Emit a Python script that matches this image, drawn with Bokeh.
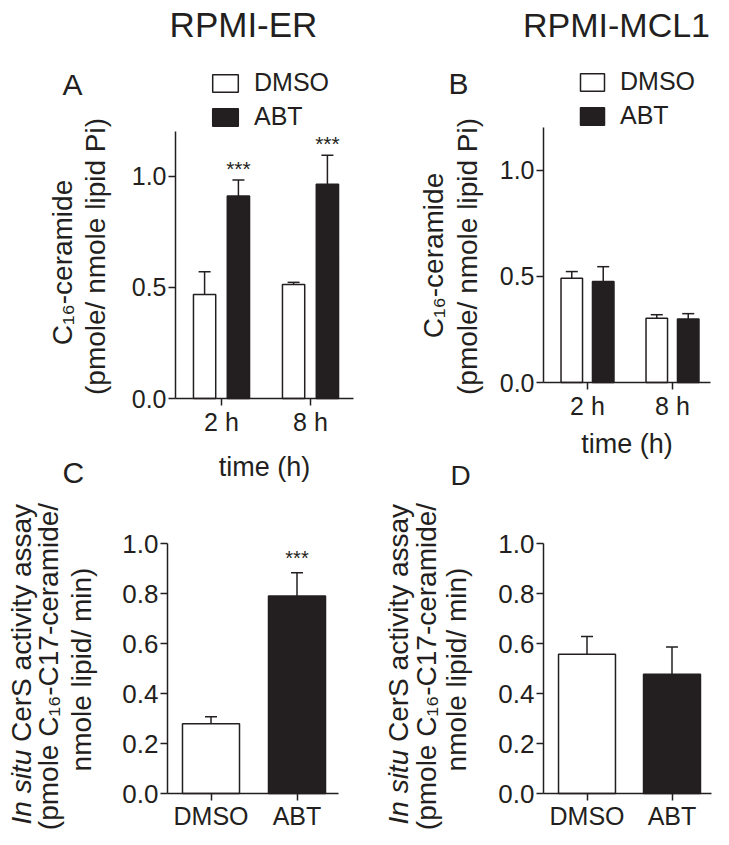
from bokeh.plotting import figure
from bokeh.models import (ColumnDataSource, Range1d, FixedTicker, PrintfTickFormatter,
                          Whisker, TeeHead, Label, Legend, LegendItem)
from bokeh.layouts import row, column
from bokeh.embed import file_html
from bokeh.resources import INLINE
from bokeh.core.properties import value

FONT = "Liberation Sans"
INK = "#231f20"

# ---------------- data ----------------
times = ["2 h", "8 h"]
er_dmso = [0.467, 0.512]
er_dmso_err = [0.103, 0.010]
er_abt = [0.910, 0.963]
er_abt_err = [0.072, 0.130]
er_stars = ["***", "***"]

mcl_dmso = [0.491, 0.302]
mcl_dmso_err = [0.031, 0.017]
mcl_abt = [0.475, 0.299]
mcl_abt_err = [0.070, 0.025]
mcl_stars = ["", ""]

treatments = ["DMSO", "ABT"]
er_cers = [0.279, 0.790]
er_cers_err = [0.028, 0.093]
er_cers_stars = ["", "***"]
mcl_cers = [0.557, 0.477]
mcl_cers_err = [0.071, 0.109]
mcl_cers_stars = ["", ""]

ticks_top = [0.0, 0.5, 1.0]
ticks_bottom = [0.0, 0.2, 0.4, 0.6, 0.8, 1.0]


# ---------------- helpers ----------------
def lin(p0, v0, p1, v1, q):
    return v0 + (q - p0) * (v1 - v0) / (p1 - p0)


def make_fig(W, H, xa, ya, ax_px, ytop, categories):
    """xa/ya: pixel anchors (px0, v0, px1, v1) on the canvas (y counted from top)."""
    p = figure(width=W, height=H, output_backend="svg", toolbar_location=None,
               x_range=Range1d(lin(*xa, 0), lin(*xa, W)),
               y_range=Range1d(lin(*ya, H), lin(*ya, 0)),
               min_border_left=0, min_border_right=0, min_border_top=0, min_border_bottom=0)
    p.outline_line_color = None
    p.xgrid.grid_line_color = None
    p.ygrid.grid_line_color = None
    p.background_fill_color = "white"
    p.border_fill_color = "white"
    x_lo, x_hi = lin(*xa, ax_px[0]), lin(*xa, ax_px[1])
    p.yaxis.fixed_location = x_lo
    p.xaxis.fixed_location = 0
    p.xaxis.bounds = (x_lo, x_hi)
    p.yaxis.bounds = (0, ytop)
    for ax in (p.xaxis[0], p.yaxis[0]):
        ax.axis_line_color = INK
        ax.axis_line_width = 1.5
        ax.major_tick_line_color = INK
        ax.major_tick_line_width = 1.5
        ax.major_tick_in = 0
        ax.major_tick_out = 7
        ax.minor_tick_line_color = None
        ax.major_label_text_font = FONT
        ax.major_label_text_color = INK
    centers = [i + 0.5 for i in range(len(categories))]
    p.xaxis.ticker = FixedTicker(ticks=centers)
    p.xaxis.major_label_overrides = {c: lab for c, lab in zip(centers, categories)}
    p.yaxis.formatter = PrintfTickFormatter(format="%.1f")
    p.yaxis.major_label_standoff = 2
    p.xaxis.major_label_standoff = 2
    p.xaxis.major_label_text_font_size = "25px"
    return p, centers


def lab(p, text, cx, cy, size, angle=0, align="left", style="normal"):
    # cx, cy: canvas pixels (y counted from the top), cy = vertical middle of the text
    H = p.height
    p.add_layout(Label(x=cx, y=H - cy, x_units="screen", y_units="screen", text=text,
                       angle=angle, angle_units="deg", text_align=align,
                       text_baseline="middle", text_font=FONT, text_font_size=size,
                       text_font_style=style, text_color=INK))


def vlab(p, text, cx, cy, size="28px", style="normal"):
    lab(p, text, cx, cy, size, angle=90, align="center", style=style)


def grouped(p, centers, dmso, dmso_err, abt, abt_err, stars, off, bw, star_off):
    src = ColumnDataSource(dict(
        xd=[c - off for c in centers], xa=[c + off for c in centers],
        dmso=dmso, abt=abt,
        dmso_up=[v + e for v, e in zip(dmso, dmso_err)],
        abt_up=[v + e for v, e in zip(abt, abt_err)],
        stars=stars))
    r1 = p.vbar(x="xd", top="dmso", width=bw, source=src, fill_color="white",
                line_color=INK, line_width=1.5)
    r2 = p.vbar(x="xa", top="abt", width=bw, source=src, fill_color=INK,
                line_color=INK, line_width=1.5)
    for xb, lo, up in (("xd", "dmso", "dmso_up"), ("xa", "abt", "abt_up")):
        p.add_layout(Whisker(source=src, base=xb, lower=lo, upper=up, dimension="height",
                             line_color=INK, line_width=1.5, lower_head=None,
                             upper_head=TeeHead(size=12, line_color=INK, line_width=1.5)))
    p.text(x="xa", y="abt_up", text="stars", source=src, text_align="center",
           text_baseline="middle", y_offset=star_off, text_font=value(FONT),
           text_font_size="21px", text_color=INK)
    p.yaxis.ticker = FixedTicker(ticks=ticks_top)
    p.yaxis.major_label_text_font_size = "25px"
    p.xaxis.axis_label = "time (h)"
    p.xaxis.axis_label_text_font = FONT
    p.xaxis.axis_label_text_font_size = "27px"
    p.xaxis.axis_label_text_font_style = "normal"
    p.xaxis.axis_label_text_color = INK
    return r1, r2


def add_legend(p, r1, r2, left, top, gw):
    H = p.height
    lg = Legend(items=[LegendItem(label="DMSO", renderers=[r1]),
                       LegendItem(label="ABT", renderers=[r2])],
                location=(left, H - top - 61), orientation="vertical",
                glyph_width=gw, glyph_height=22, label_height=22, label_standoff=13,
                spacing=5, padding=0, margin=0, border_line_color=None,
                background_fill_alpha=0, label_text_font=FONT,
                label_text_font_size="25px", label_text_color=INK)
    p.add_layout(lg)


def single(p, centers, vals, errs, stars, bw, star_off):
    src = ColumnDataSource(dict(
        x=centers, val=vals, up=[v + e for v, e in zip(vals, errs)], stars=stars,
        fill=["white", INK]))
    p.vbar(x="x", top="val", width=bw, source=src, fill_color="fill",
           line_color=INK, line_width=1.5)
    p.add_layout(Whisker(source=src, base="x", lower="val", upper="up",
                         dimension="height", line_color=INK, line_width=1.5, lower_head=None,
                         upper_head=TeeHead(size=12, line_color=INK, line_width=1.5)))
    p.text(x="x", y="up", text="stars", source=src, text_align="center",
           text_baseline="middle", y_offset=star_off, text_font=value(FONT),
           text_font_size="20px", text_color=INK)
    p.yaxis.ticker = FixedTicker(ticks=ticks_bottom)
    p.yaxis.major_label_text_font_size = "26px"
    p.xaxis.major_label_standoff = 1


def cers_ylabel(p, x1, y1, x2, y2, x3, y3):
    size = "28px"
    start = y1 + 160  # bottom end of the first (rotated) line, canvas px
    H = p.height
    for text, y, style in (("In situ", start, "italic"),
                           ("CerS activity assay", start - 82.5, "normal")):
        p.add_layout(Label(x=x1, y=H - y, x_units="screen", y_units="screen", text=text,
                           angle=90, angle_units="deg", text_align="left",
                           text_baseline="middle", text_font=FONT, text_font_size=size,
                           text_font_style=style, text_color=INK))
    vlab(p, "(pmole C\u2081\u2086-C17-ceramide/", x2, y2)
    vlab(p, "nmole lipid/ min)", x3, y3)


# ---------------- panel A (RPMI-ER, ceramide) ----------------
pA, cA = make_fig(360, 490, (221, 0.5, 310, 1.5), (398, 0.0, 131, 1.2), (175, 353), 1.2, times)
rA1, rA2 = grouped(pA, cA, er_dmso, er_dmso_err, er_abt, er_abt_err, er_stars,
                   0.19, 0.25, -12)
pA.xaxis.axis_label_standoff = 13
add_legend(pA, rA1, rA2, 209, 70, 32)
lab(pA, "RPMI-ER", 243, 24, "35px", align="center")
lab(pA, "A", 62, 84, "30px")
lab(pA, "C", 62, 472, "30px")
vlab(pA, "C\u2081\u2086-ceramide", 62, 262)
vlab(pA, "(pmole/ nmole lipid Pi)", 95, 256)

# ---------------- panel B (RPMI-MCL1, ceramide) ----------------
pB, cB = make_fig(353, 459, (227, 0.5, 312, 1.5), (382, 0.0, 127, 1.2), (183, 350), 1.2, times)
rB1, rB2 = grouped(pB, cB, mcl_dmso, mcl_dmso_err, mcl_abt, mcl_abt_err, mcl_stars,
                   0.185, 0.253, -12)
pB.xaxis.axis_label_standoff = 6
add_legend(pB, rB1, rB2, 217, 69, 30)
lab(pB, "RPMI-MCL1", 256, 24, "34px", align="center")
lab(pB, "B", 88, 83, "30px")
vlab(pB, "C\u2081\u2086-ceramide", 73, 255)
vlab(pB, "(pmole/ nmole lipid Pi)", 107, 256)

# ---------------- panel C (RPMI-ER, CerS activity) ----------------
pC, cC = make_fig(360, 339, (210.5, 0.5, 296.5, 1.5), (303, 0.0, 53, 1.0), (167, 338), 1.0,
                  treatments)
single(pC, cC, er_cers, er_cers_err, er_cers_stars, 0.663, -15)
cers_ylabel(pC, 21, 174, 48, 176, 81, 179)

# ---------------- panel D (RPMI-MCL1, CerS activity) ----------------
pD, cD = make_fig(353, 370, (226.5, 0.5, 311.5, 1.5), (334, 0.0, 84, 1.0), (183, 351), 1.0,
                  treatments)
single(pD, cD, mcl_cers, mcl_cers_err, mcl_cers_stars, 0.67, -15)
cers_ylabel(pD, 38, 205, 66, 207, 96, 210)
lab(pD, "D", 90, 16, "28px")

layout = row(column(pA, pC), column(pB, pD))
open("out.html", "w").write(file_html(layout, INLINE))
